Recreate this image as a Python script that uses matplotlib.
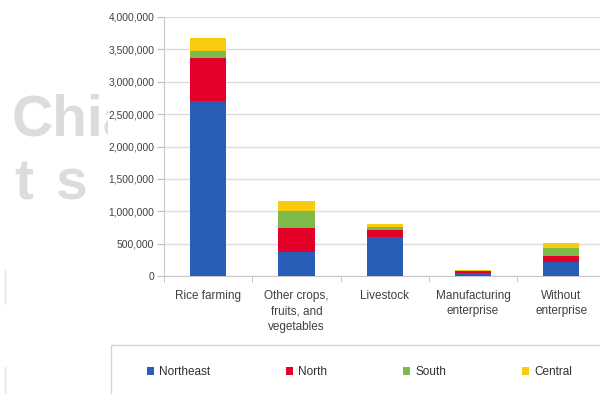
import matplotlib.pyplot as plt
from matplotlib.lines import Line2D
from matplotlib.patches import Patch, Rectangle
from matplotlib.transforms import Bbox

plt.rcParams['font.family'] = ['Liberation Sans', 'DejaVu Sans']

# Data: households by enterprise type and region.
categories = ['Rice farming', 'Other crops,\nfruits, and\nvegetables', 'Livestock',
              'Manufacturing\nenterprise', 'Without\nenterprise']
northeast = [2705000, 375000, 597000, 42000, 210000]
north = [655000, 361000, 113000, 28000, 100000]
south = [120000, 267000, 51000, 5000, 130000]
central = [200000, 159000, 39000, 12000, 65000]
regions = ['Northeast', 'North', 'South', 'Central']
colors = ['#2a5db5', '#e5002a', '#7cbb4a', '#f8cb10']
yticks = [0, 500000, 1000000, 1500000, 2000000, 2500000, 3000000, 3500000, 4000000]

fig = plt.figure(figsize=(6.0, 3.94), dpi=100)
W, H = 600, 394

# Faded background lettering on the left, cut off where the chart begins.
clip = Bbox([[0, 0], [108, H]])
for txt, x0, y in [('Chia', 12, 120), ('t', 14, 184), ('s', 56, 184)]:
    t = fig.text(x0 / W, 1 - y / H, txt, fontsize=41, fontweight='bold',
                 color='#dcdcdc', va='center', ha='left', zorder=0)
    t.set_clip_box(clip)
    t.set_clip_on(True)

# thin page rules at the far left
for y0, y1 in [(270, 303), (367, 394)]:
    fig.add_artist(Line2D([5 / W, 5 / W], [1 - y0 / H, 1 - y1 / H],
                          color='#e4e4e4', linewidth=1))

ax = fig.add_axes([164 / W, 1 - 276 / H, 441.5 / W, 259 / H])
ax.set_facecolor('none')

series = [northeast, north, south, central]
x = range(len(categories))
bottom = [0] * len(categories)
for vals, name, col in zip(series, regions, colors):
    ax.bar(x, vals, width=0.41, bottom=bottom, color=col, label=name, zorder=3)
    bottom = [b + v for b, v in zip(bottom, vals)]

ax.set_xlim(-0.5, 4.5)
ax.set_ylim(0, 4000000)
ax.set_yticks(yticks)
ax.set_yticklabels([f'{v:,}' for v in yticks], fontsize=7.4, color='#404040')
ax.yaxis.grid(True, color='#dcdcdc', linewidth=1, zorder=0)

ax.set_xticks(list(x))
ax.set_xticklabels(categories, fontsize=8.5, color='#404040', linespacing=1.4, va='top')
ax.set_xticks([i - 0.5 for i in range(len(categories) + 1)], minor=True)
ax.tick_params(axis='x', which='major', length=0, pad=10)
ax.tick_params(axis='x', which='minor', length=4, color='#bfbfbf')
ax.tick_params(axis='y', length=5, color='#bfbfbf', pad=2)

for side in ['top', 'right']:
    ax.spines[side].set_visible(False)
ax.spines['left'].set_color('#c8c8c8')
ax.spines['bottom'].set_color('#c8c8c8')

# Legend panel below the chart.
fig.patches.append(Rectangle((111 / W, -0.1), 1.0, (1 - 345 / H) + 0.1,
                             transform=fig.transFigure, facecolor='white',
                             edgecolor='#d4d4d4', linewidth=1, zorder=1))
handles = [Patch(facecolor=c, edgecolor='none') for c in colors]
fig.legend(handles, regions, loc='center left', ncol=4, frameon=False,
           bbox_to_anchor=(147 / W, 1 - 372 / H), borderaxespad=0, borderpad=0,
           fontsize=8.5, handlelength=0.6, handleheight=0.6, handletextpad=0.45,
           columnspacing=6.4, labelcolor='#303030')

fig.savefig('out.png', dpi=100, facecolor='white')
